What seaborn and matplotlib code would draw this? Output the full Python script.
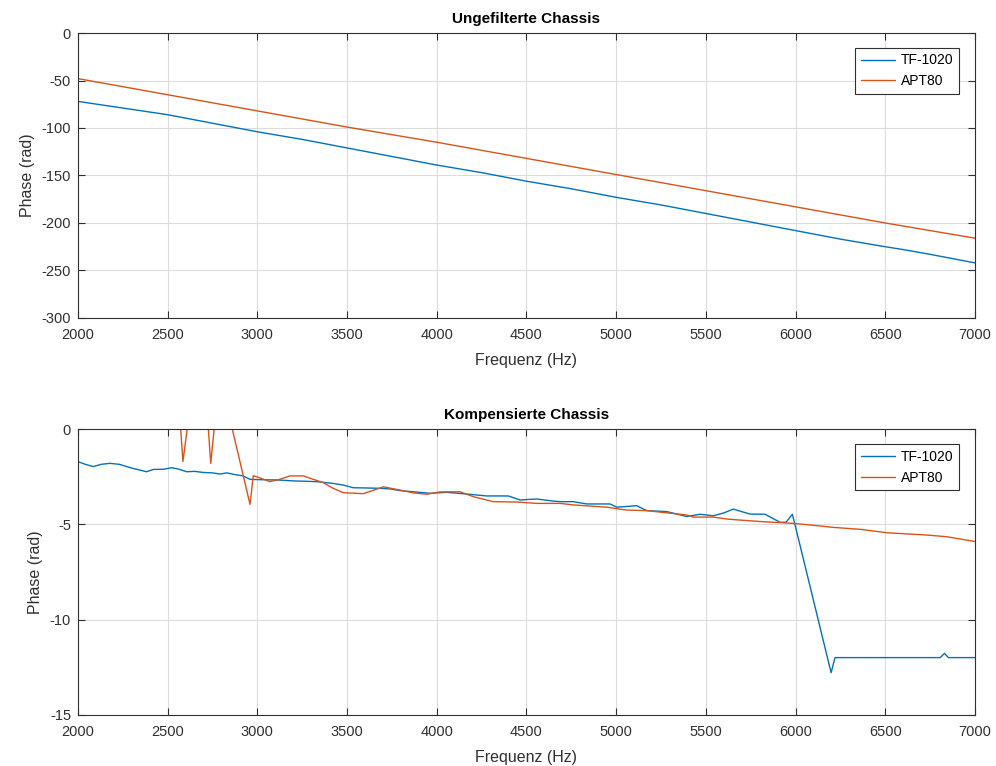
import matplotlib
matplotlib.use("Agg")
import matplotlib.pyplot as plt
import seaborn as sns
import pandas as pd

# ---------------- data ----------------
series_names = ["TF-1020", "APT80"]

# top panel: unfiltered chassis (phase in rad)
top_freq_tf = [2000, 2250, 2500, 2750, 3000, 3250, 3500, 3750, 4000, 4250, 4500,
               4750, 5000, 5250, 5500, 5750, 6000, 6250, 6500, 6600, 6750, 7000]
top_phase_tf = [-72, -79, -86, -95, -104, -112, -121, -130, -139, -147, -156,
                -164, -173, -181, -190, -199, -208, -217, -225, -228, -233, -242]
top_freq_apt = [2000, 2500, 3000, 3500, 4000, 4500, 5000, 5500, 6000, 6500, 7000]
top_phase_apt = [-48, -65, -82, -99, -115, -132, -149, -166, -183, -200, -216]

# bottom panel: compensated chassis
bot_freq_tf = [2000, 2040, 2085, 2130, 2178, 2230, 2300, 2383, 2420, 2476, 2522, 2560,
               2606, 2650, 2700, 2750, 2791, 2830, 2880, 2921, 2959, 3030, 3108, 3200,
               3331, 3420, 3479, 3535, 3600, 3683, 3739, 3795, 3880, 3962, 4055, 4167,
               4278, 4399, 4464, 4557, 4650, 4687, 4760, 4836, 4966, 5003, 5114, 5170,
               5282, 5393, 5467, 5541, 5600, 5653, 5746, 5830, 5913, 5947, 5982, 5997,
               6198, 6220, 6806, 6830, 6852, 7000]
bot_phase_tf = [-1.71, -1.85, -1.97, -1.85, -1.80, -1.85, -2.05, -2.24, -2.12, -2.11, -2.03, -2.10,
                -2.24, -2.22, -2.28, -2.30, -2.36, -2.30, -2.40, -2.46, -2.64, -2.66, -2.67, -2.72,
                -2.76, -2.85, -2.94, -3.08, -3.09, -3.11, -3.14, -3.23, -3.30, -3.37, -3.32, -3.41,
                -3.51, -3.51, -3.72, -3.67, -3.78, -3.81, -3.81, -3.93, -3.93, -4.10, -4.02, -4.28,
                -4.33, -4.59, -4.47, -4.55, -4.40, -4.20, -4.46, -4.47, -4.89, -4.89, -4.47, -5.03,
                -12.78, -11.99, -11.99, -11.77, -11.99, -11.99]

bot_freq_apt = [2000, 2300, 2556, 2585, 2638, 2712, 2740, 2780, 2850, 2959, 2977, 3010,
                3070, 3120, 3182, 3256, 3300, 3367, 3420, 3479, 3590, 3650, 3702, 3795,
                3870, 3944, 4018, 4129, 4204, 4315, 4450, 4557, 4687, 4761, 4947, 5058,
                5170, 5393, 5431, 5541, 5625, 5800, 5988, 6100, 6211, 6360, 6508, 6731,
                6843, 7000]
bot_phase_apt = [2.4, 2.3, 2.2, -1.7, 2.1, 2.0, -1.8, 2.0, 0.4, -3.95, -2.45, -2.55,
                 -2.76, -2.65, -2.46, -2.46, -2.60, -2.81, -3.10, -3.34, -3.39, -3.20, -3.03, -3.20,
                 -3.35, -3.42, -3.30, -3.29, -3.55, -3.81, -3.83, -3.90, -3.90, -3.98, -4.10, -4.25,
                 -4.28, -4.51, -4.62, -4.62, -4.73, -4.85, -4.95, -5.05, -5.16, -5.26, -5.44, -5.56,
                 -5.65, -5.90]

titles = ["Ungefilterte Chassis", "Kompensierte Chassis"]
xlabel = "Frequenz (Hz)"
ylabel = "Phase (rad)"
colors = ["#0072BD", "#D95319"]

# ---------------- style ----------------
sns.set_theme(style="white")
plt.rcParams["font.family"] = ["Liberation Sans", "DejaVu Sans"]
plt.rcParams["axes.unicode_minus"] = False

fig = plt.figure(figsize=(9.96, 7.66), dpi=100)
ax_top = fig.add_axes([0.0783, 0.5849, 0.9006, 0.3720])
ax_bot = fig.add_axes([0.0783, 0.0666, 0.9006, 0.3733])

def make_df(f1, p1, f2, p2):
    return pd.concat([
        pd.DataFrame({"f": f1, "p": p1, "s": series_names[0]}),
        pd.DataFrame({"f": f2, "p": p2, "s": series_names[1]}),
    ], ignore_index=True)

df_top = make_df(top_freq_tf, top_phase_tf, top_freq_apt, top_phase_apt)
df_bot = make_df(bot_freq_tf, bot_phase_tf, bot_freq_apt, bot_phase_apt)

dark = "#303030"
for ax, df, title, ylim, yticks, leg_y in [
    (ax_top, df_top, titles[0], (-300, 0), range(-300, 1, 50), 0.948),
    (ax_bot, df_bot, titles[1], (-15, 0), range(-15, 1, 5), 0.9465),
]:
    sns.lineplot(data=df, x="f", y="p", hue="s", palette=colors, estimator=None,
                 sort=False, linewidth=1.0, ax=ax)
    ax.set_xlim(2000, 7000)
    ax.set_ylim(*ylim)
    ax.set_xticks(range(2000, 7001, 500))
    ax.set_yticks(list(yticks))
    ax.grid(True, color="#dcdcdc", linewidth=0.8)
    ax.set_axisbelow(True)
    for sp in ax.spines.values():
        sp.set_color(dark)
        sp.set_linewidth(0.8)
    ax.tick_params(direction="in", length=5, width=0.8, color=dark, labelcolor=dark,
                   labelsize=10.5, top=True, right=True, bottom=True, left=True)
    ax.tick_params(axis="x", pad=7)
    ax.tick_params(axis="y", pad=5)
    ax.set_title(title, fontsize=11, fontweight="bold", color="black", pad=7)
    ax.set_xlabel(xlabel, fontsize=11.5, color=dark, labelpad=8)
    ax.set_ylabel(ylabel, fontsize=11.5, color=dark, labelpad=5)
    leg = ax.legend(loc="upper right", bbox_to_anchor=(0.9822, leg_y), fontsize=10,
                    frameon=True, fancybox=False, framealpha=1, edgecolor=dark,
                    handlelength=2.5, borderpad=0.4, labelspacing=0.5, handletextpad=0.4,
                    borderaxespad=0)
    leg.get_frame().set_linewidth(0.8)
    leg.set_title(None)
    for t in leg.get_texts():
        t.set_color("black")

fig.savefig("out.png", dpi=100, facecolor="white")
